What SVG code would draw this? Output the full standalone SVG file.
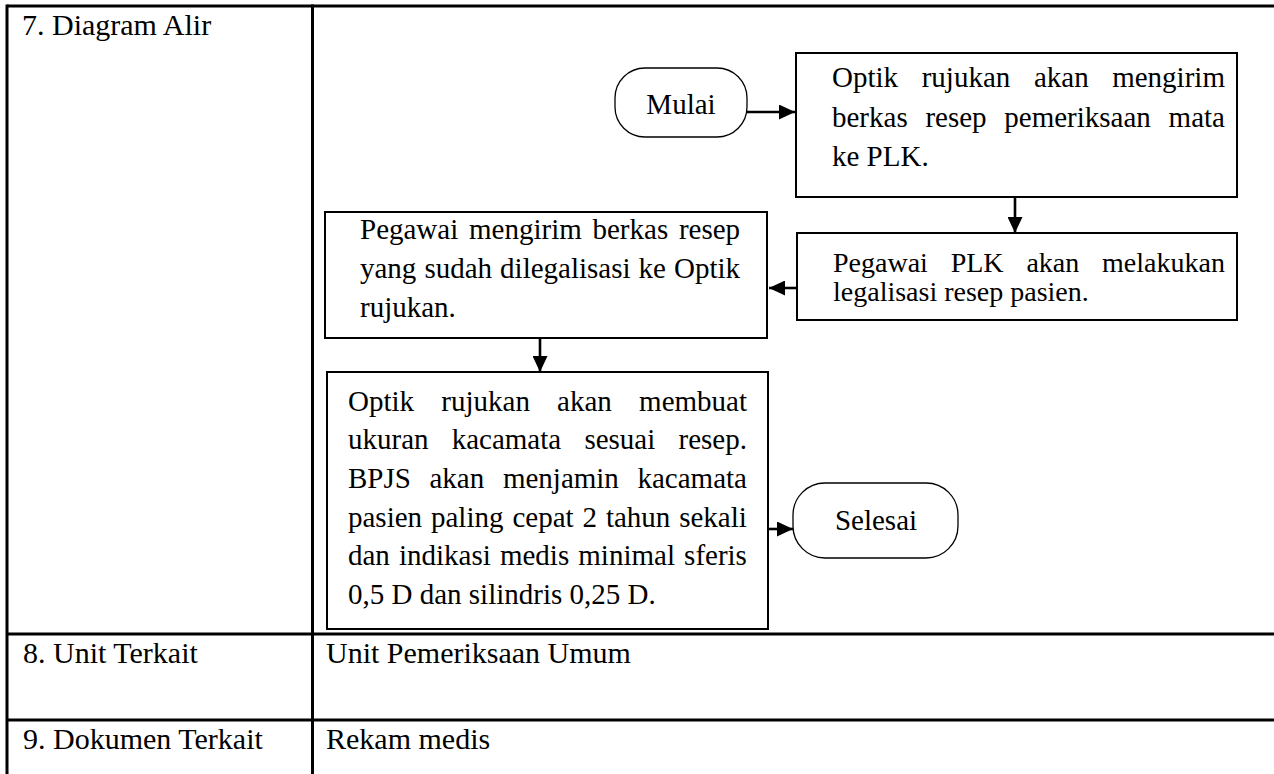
<svg xmlns="http://www.w3.org/2000/svg" width="1274" height="774" viewBox="0 0 1274 774">
  <style>
    .grid { stroke: #000; stroke-width: 3; fill: none; }
    .box { fill: #fff; stroke: #000; stroke-width: 2; }
    .term { fill: #fff; stroke: #000; stroke-width: 1.3; }
    .t { font-family: "Liberation Serif", "Times New Roman", serif; font-size: 29px; fill: #000; }
    .tab { font-family: "Liberation Serif", "Times New Roman", serif; font-size: 30px; fill: #000; }
    .small { font-size: 28px; }
    .edge { stroke: #000; stroke-width: 2.6; fill: none; marker-end: url(#arrow); }
  </style>
  <defs>
    <marker id="arrow" markerUnits="userSpaceOnUse" markerWidth="17" markerHeight="15" refX="16" refY="7.5" orient="auto">
      <path d="M0,0 L16,7.5 L0,15 Z" fill="#000"/>
    </marker>
  </defs>
  <rect width="1274" height="774" fill="#fff"/>

  <!-- table frame -->
  <g id="table">
    <line class="grid" x1="7" y1="6" x2="1274" y2="6"/>
    <line class="grid" x1="7" y1="4.5" x2="7" y2="774"/>
    <line class="grid" x1="312.5" y1="4.5" x2="312.5" y2="774"/>
    <line class="grid" x1="7" y1="634" x2="1274" y2="634"/>
    <line class="grid" x1="7" y1="720" x2="1274" y2="720"/>
    <text class="tab" x="22" y="35">7. Diagram Alir</text>
    <text class="tab" x="23" y="663">8. Unit Terkait</text>
    <text class="tab" x="326" y="663">Unit Pemeriksaan Umum</text>
    <text class="tab" x="23" y="749">9. Dokumen Terkait</text>
    <text class="tab" x="326" y="749">Rekam medis</text>
  </g>

  <!-- connectors -->
  <g id="connectors">
    <line class="edge" x1="747" y1="112" x2="795" y2="112"/>
    <line class="edge" x1="1015" y1="197" x2="1015" y2="233"/>
    <line class="edge" x1="797" y1="288" x2="769" y2="288"/>
    <line class="edge" x1="540" y1="338" x2="540" y2="372"/>
    <line class="edge" x1="768" y1="529" x2="793" y2="529"/>
  </g>

  <!-- start -->
  <g id="mulai">
    <rect class="term" x="615" y="68" width="132" height="69" rx="30" ry="30"/>
    <text class="t" x="681" y="114" text-anchor="middle">Mulai</text>
  </g>

  <!-- step 1 -->
  <g id="kirim-resep">
    <rect class="box" x="796" y="53" width="441" height="144"/>
    <text class="t" y="87"><tspan x="832">Optik</tspan><tspan x="921.7">rujukan</tspan><tspan x="1033.9">akan</tspan><tspan x="1112.2">mengirim</tspan></text>
    <text class="t" y="127"><tspan x="832">berkas</tspan><tspan x="925.4">resep</tspan><tspan x="1004.3">pemeriksaan</tspan><tspan x="1168.6">mata</tspan></text>
    <text class="t" x="832" y="166">ke PLK.</text>
  </g>

  <!-- step 2 -->
  <g id="legalisasi">
    <rect class="box" x="797" y="233" width="440" height="87"/>
    <text class="t small" y="272"><tspan x="833">Pegawai</tspan><tspan x="950.7">PLK</tspan><tspan x="1026.4">akan</tspan><tspan x="1102.1">melakukan</tspan></text>
    <text class="t small" x="833" y="301">legalisasi resep pasien.</text>
  </g>

  <!-- step 3 -->
  <g id="kirim-optik">
    <rect class="box" x="325" y="212" width="442" height="126"/>
    <text class="t" y="239"><tspan x="360">Pegawai</tspan><tspan x="469">mengirim</tspan><tspan x="592.5">berkas</tspan><tspan x="678.9">resep</tspan></text>
    <text class="t" y="278"><tspan x="360">yang</tspan><tspan x="424.4">sudah</tspan><tspan x="500.1">dilegalisasi</tspan><tspan x="638.6">ke</tspan><tspan x="674">Optik</tspan></text>
    <text class="t" x="360" y="317">rujukan.</text>
  </g>

  <!-- step 4 -->
  <g id="buat-kacamata">
    <rect class="box" x="327" y="372" width="441" height="257"/>
    <text class="t" y="410.5"><tspan x="348">Optik</tspan><tspan x="441.3">rujukan</tspan><tspan x="557.1">akan</tspan><tspan x="639.1">membuat</tspan></text>
    <text class="t" y="449.2"><tspan x="348">ukuran</tspan><tspan x="451.7">kacamata</tspan><tspan x="584.4">sesuai</tspan><tspan x="678.5">resep.</tspan></text>
    <text class="t" y="487.9"><tspan x="348">BPJS</tspan><tspan x="429.5">akan</tspan><tspan x="502.9">menjamin</tspan><tspan x="637.5">kacamata</tspan></text>
    <text class="t" y="526.6"><tspan x="348">pasien</tspan><tspan x="431">paling</tspan><tspan x="512.4">cepat</tspan><tspan x="582.5">2</tspan><tspan x="605.9">tahun</tspan><tspan x="679.2">sekali</tspan></text>
    <text class="t" y="565.3"><tspan x="348">dan</tspan><tspan x="399">indikasi</tspan><tspan x="499.9">medis</tspan><tspan x="578.3">minimal</tspan><tspan x="684.1">sferis</tspan></text>
    <text class="t" x="348" y="604">0,5 D dan silindris 0,25 D.</text>
  </g>

  <!-- end -->
  <g id="selesai">
    <rect class="term" x="793" y="483" width="165" height="75" rx="32" ry="32"/>
    <text class="t" x="876" y="530" text-anchor="middle">Selesai</text>
  </g>
</svg>
